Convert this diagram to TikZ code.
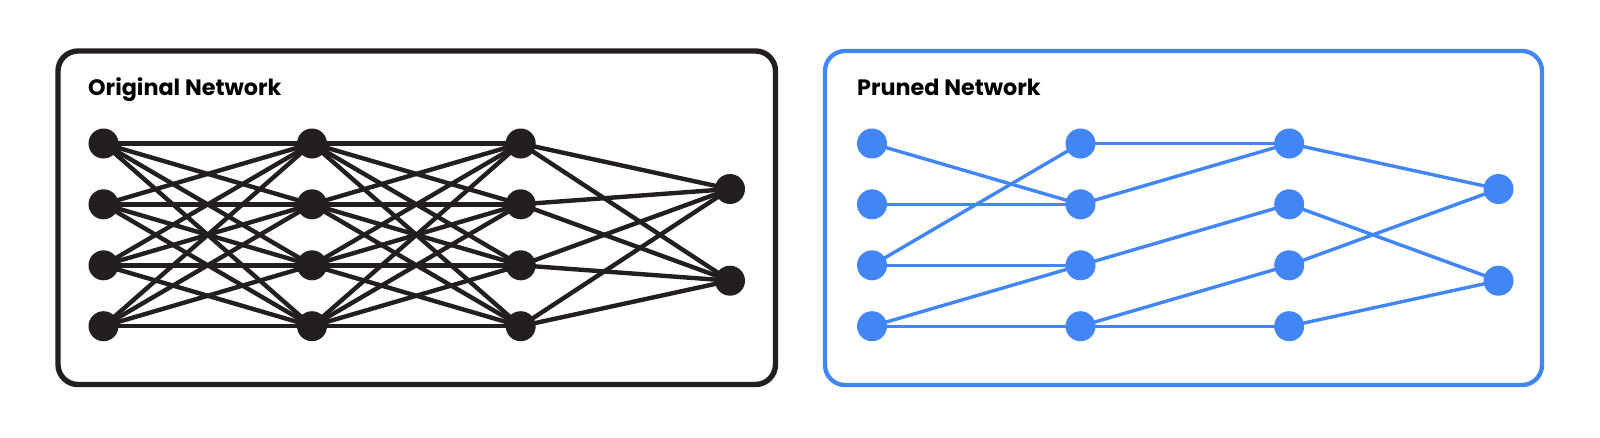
\documentclass[tikz,border=0pt]{standalone}
\usepackage{fontspec}
\setmainfont{Poppins}
\definecolor{ink}{HTML}{231F20}
\definecolor{gblue}{HTML}{4285F4}
\pgfdeclarelayer{bg}
\pgfsetlayers{bg,main}
\tikzset{
  panel/.style={rounded corners=20pt},
  neuron/.style={circle, minimum size=30pt, inner sep=0pt},
  title/.style={anchor=base west, font=\bfseries\fontsize{22.3}{24}\selectfont, text=black, inner sep=0pt},
  blackedge/.style={ink, line width=4.4pt},
  blueedge/.style={gblue, line width=3.4pt},
}
\begin{document}
\begin{tikzpicture}[x=1pt,y=-1pt]
\useasboundingbox (0,0) rectangle (1600,437);
\begin{pgfonlayer}{bg}
\fill[white] (0,0) rectangle (1600,437);
\end{pgfonlayer}
% panels
\draw[panel, ink, line width=5.4pt] (58,51) rectangle (775.5,384.5);
\draw[panel, gblue, line width=4.3pt] (825,51) rectangle (1542,385);
\node[title] (t1) at (88,95) {Original Network};
\node[title] (t2) at (857,95) {Pruned Network};
% nodes
\foreach \c/\x in {1/103.5,2/312,3/520.7} {
  \foreach \r/\y in {1/143.5,2/204.3,3/265.3,4/326.2} {
    \node[neuron, fill=ink] (L\c\r) at (\x,\y) {};
    \node[neuron, fill=gblue] (R\c\r) at (\x+768.5,\y) {};
  }
}
\node[neuron, fill=ink] (L41) at (730,189) {};
\node[neuron, fill=ink] (L42) at (730,280.7) {};
\node[neuron, fill=gblue] (R41) at (1498.5,189) {};
\node[neuron, fill=gblue] (R42) at (1498.5,280.7) {};
\begin{pgfonlayer}{bg}
% left edges
\foreach \a in {1,2,3,4} {
  \foreach \b in {1,2,3,4} {
    \draw[blackedge] (L1\a.center) -- (L2\b.center);
    \draw[blackedge] (L2\a.center) -- (L3\b.center);
  }
  \foreach \b in {1,2} {
    \draw[blackedge] (L3\a.center) -- (L4\b.center);
  }
}
% right edges
\foreach \p/\q in {11/22,12/22,13/21,13/23,14/23,14/24,21/31,22/31,23/32,24/33,24/34,31/41,32/42,33/41,34/42} {
  \draw[blueedge] (R\p.center) -- (R\q.center);
}
\end{pgfonlayer}
\end{tikzpicture}
\end{document}
